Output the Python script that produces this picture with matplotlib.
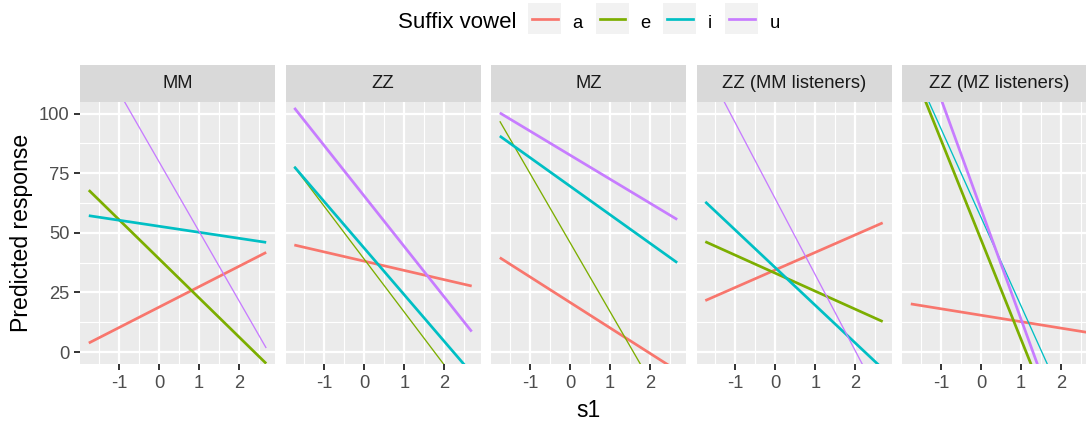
import numpy as np
import matplotlib
matplotlib.use("Agg")
from matplotlib import pyplot as plt
from matplotlib.patches import Rectangle
from matplotlib.lines import Line2D

plt.rcParams["font.family"] = ["Liberation Sans", "DejaVu Sans"]
plt.rcParams["axes.unicode_minus"] = False

# predicted response lines, given at the two ends of the s1 range
panels = ["MM", "ZZ", "MZ", "ZZ (MM listeners)", "ZZ (MZ listeners)"]
vowels = ["a", "e", "i", "u"]
s1_ends = [-1.75, 2.68]

resp_start = {
    "MM": [3.8, 67.9, 57.2, 131.0],
    "ZZ": [44.9, 77.7, 77.7, 102.4],
    "MZ": [39.6, 96.8, 90.6, 100.3],
    "ZZ (MM listeners)": [21.6, 46.3, 63.0, 120.0],
    "ZZ (MZ listeners)": [20.2, 120.5, 121.7, 141.0],
}
resp_end = {
    "MM": [41.8, -4.8, 46.0, 1.7],
    "ZZ": [27.7, -20.6, -8.9, 8.6],
    "MZ": [-7.8, -31.7, 37.5, 55.6],
    "ZZ (MM listeners)": [54.2, 12.8, -7.0, -21.3],
    "ZZ (MZ listeners)": [8.2, -64.8, -43.0, -63.7],
}
# vowel drawn with the thin line in each panel
thin_vowel = ["u", "e", "e", "u", "i"]

colores = ["#F8766D", "#7CAE00", "#00BFC4", "#C77CFF"]

W, H = 1086, 421
fig = plt.figure(figsize=(W / 100, H / 100), dpi=100)


def rect(left, top, width, height):
    return [left / W, 1 - (top + height) / H, width / W, height / H]


panel_top = 101.7
panel_h = 364 - panel_top
strip_top = 65
panel_w = 195

for k, nombre in enumerate(panels):
    left = 80 + k * 205.5
    ax = fig.add_axes(rect(left, panel_top, panel_w, panel_h))
    ax.set_facecolor("#EBEBEB")
    for sp in ax.spines.values():
        sp.set_visible(False)

    for j, v in enumerate(vowels):
        lw = 0.95 if v == thin_vowel[k] else 1.95
        ax.plot(s1_ends, [resp_start[nombre][j], resp_end[nombre][j]],
                color=colores[j], lw=lw, solid_capstyle="butt", zorder=3)

    ax.set_xlim(-1.97, 2.90)
    ax.set_ylim(-5, 105)
    ax.set_xticks([-1, 0, 1, 2])
    ax.set_xticks([-1.5, -0.5, 0.5, 1.5, 2.5], minor=True)
    ax.set_yticks([0, 25, 50, 75, 100])
    ax.set_yticks([12.5, 37.5, 62.5, 87.5], minor=True)
    ax.grid(which="major", color="white", lw=1.6)
    ax.grid(which="minor", color="white", lw=0.8)
    ax.set_axisbelow(True)
    ax.tick_params(which="major", length=4.1, width=1.4, color="#333333",
                   labelsize=13.25, labelcolor="#4D4D4D", pad=3.6)
    ax.tick_params(which="minor", length=0)
    if k > 0:
        ax.tick_params(axis="y", which="major", length=0, labelleft=False)

    # facet strip
    st = fig.add_axes(rect(left, strip_top, panel_w, panel_top - strip_top))
    st.set_facecolor("#D9D9D9")
    st.set_xticks([])
    st.set_yticks([])
    for sp in st.spines.values():
        sp.set_visible(False)
    st.text(0.5, 0.5, nombre, ha="center", va="center", fontsize=13.25,
            color="#1A1A1A", transform=st.transAxes)

fig.text(588.5 / W, 1 - 417 / H, "s1", ha="center", va="baseline",
         fontsize=16.6, color="black")
fig.text(22 / W, 1 - 232.9 / H, "Predicted response", ha="center",
         va="center", rotation=90, fontsize=16.6, color="black")

# legend across the top
base_y = 1 - 28 / H
fig.text(398 / W, base_y, "Suffix vowel", ha="left", va="baseline",
         fontsize=16.0, color="black")
key_left = [528, 596, 663, 725]
for j, v in enumerate(vowels):
    x0 = key_left[j]
    fig.add_artist(Rectangle((x0 / W, 1 - 34.3 / H), 33 / W, 31.6 / H,
                             transform=fig.transFigure, facecolor="#F2F2F2",
                             edgecolor="none"))
    fig.add_artist(Line2D([(x0 + 3.5) / W, (x0 + 29.5) / W],
                          [1 - 19 / H, 1 - 19 / H], transform=fig.transFigure,
                          color=colores[j], lw=1.95))
    fig.text((x0 + 44.5) / W, base_y, v, ha="left", va="baseline",
             fontsize=13.25, color="black")

plt.savefig("out.png", dpi=100)
